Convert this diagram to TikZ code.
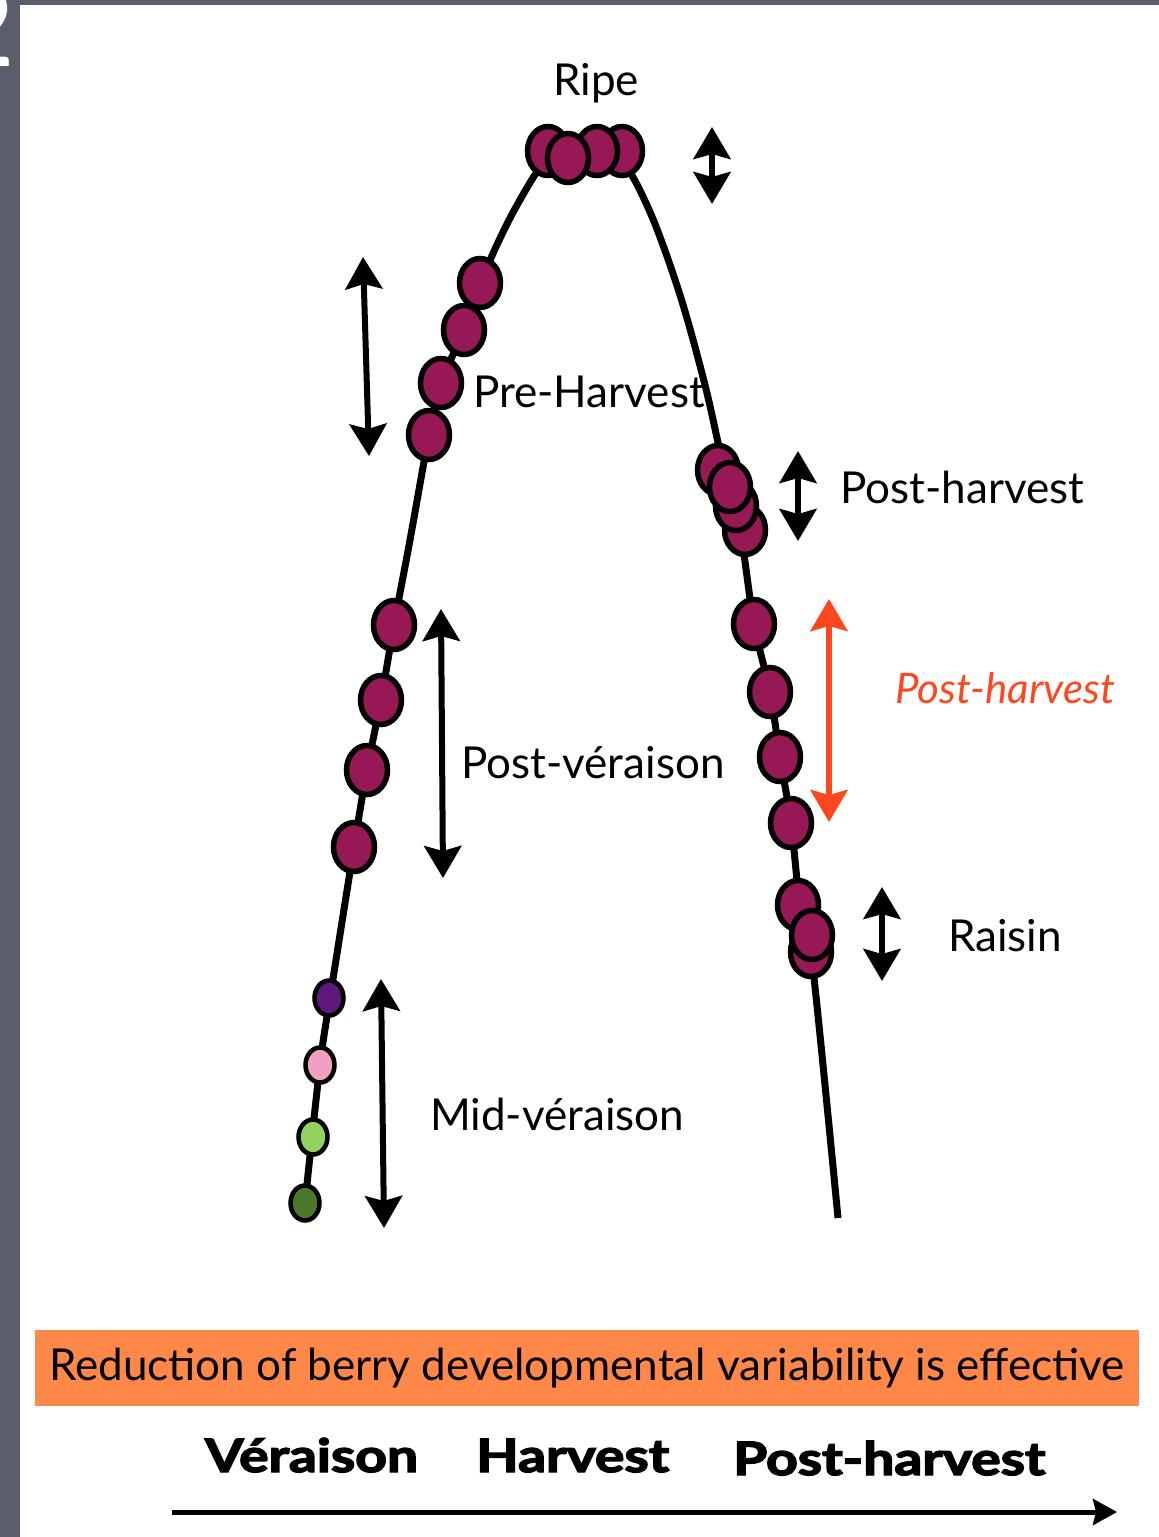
\documentclass[tikz,border=0pt]{standalone}
\usepackage{fontspec}
\usepackage{graphicx}
\setmainfont{Lato}
\newfontfamily\heavyfont{Lato}[FakeBold=3]
\usetikzlibrary{arrows.meta,shapes.geometric}

\definecolor{frame}{RGB}{90,94,108}
\definecolor{berryred}{RGB}{150,25,85}
\definecolor{grapepurple}{RGB}{95,25,125}
\definecolor{grapepink}{RGB}{240,160,192}
\definecolor{grapelime}{RGB}{145,210,95}
\definecolor{grapegreen}{RGB}{75,120,40}
\definecolor{banner}{RGB}{255,136,72}
\definecolor{alert}{RGB}{255,70,30}

\tikzset{
  berry/.style={ellipse, draw=black, line width=5.5pt, fill=berryred,
    minimum width=41pt, minimum height=49pt, inner sep=0pt},
  smallberry/.style={ellipse, draw=black, line width=4.5pt,
    minimum width=29pt, minimum height=35pt, inner sep=0pt},
  dbl/.style={line width=6pt, {Stealth[length=32pt,width=37pt,inset=5pt]}-{Stealth[length=32pt,width=37pt,inset=5pt]}},
  label/.style={anchor=base west, inner sep=0pt, font=\fontsize{44}{48}\selectfont},
  axislabel/.style={anchor=base west, inner sep=0pt, font=\fontsize{46}{50}\selectfont\heavyfont\bfseries},
}

\begin{document}
\begin{tikzpicture}[x=1pt,y=-1pt]
\useasboundingbox (0,0) rectangle (1159,1537);

% slide frame
\fill[frame] (0,0) rectangle (1159,5);
\fill[frame] (0,0) rectangle (20,1537);
\begin{scope}
  \clip (0,0) rectangle (20,1537);
  \node[anchor=base east, inner sep=0pt, text=white,
        font=\fontsize{110}{110}\selectfont] (slidenum) at (16,66) {2};
\end{scope}

% ripening curve
\draw[line width=7pt, line cap=butt] plot[smooth, tension=0.55] coordinates {
  (305,1203) (320,1065) (330,998) (354,847) (367,770) (381,700) (394,625)
  (410,540) (429,435) (441,383) (464,330) (488,265) (516,207) (548,158)
  (585,140) (620,158) (650,212) (680,295) (705,385) (722,460) (740,530)
  (754,624) (770,692) (780,757) (791,823) (800,905) (812,960) (838,1218)};

% green-to-purple berries at veraison
\node[smallberry, fill=grapegreen]  (g1) at (305,1203) {};
\node[smallberry, fill=grapelime]   (g2) at (313,1137) {};
\node[smallberry, fill=grapepink]   (g3) at (320,1065) {};
\node[smallberry, fill=grapepurple] (g4) at (329,998) {};

% coloured berries, left branch
\node[berry] (l1) at (354,847) {};
\node[berry] (l2) at (367,770) {};
\node[berry] (l3) at (381,700) {};
\node[berry] (l4) at (394,625) {};
\node[berry] (l5) at (429,435) {};
\node[berry] (l6) at (441,383) {};
\node[berry] (l7) at (464,330) {};
\node[berry] (l8) at (480,283) {};

% ripe cluster
\node[berry] (r1) at (548,151) {};
\node[berry] (r4) at (622,151) {};
\node[berry] (r3) at (597,151) {};
\node[berry] (r2) at (568,158) {};

% post-harvest cluster
\node[berry] (p4) at (745,530) {};
\node[berry] (p3) at (736,506) {};
\node[berry] (p1) at (718,470) {};
\node[berry] (p2) at (730,487) {};

% right branch
\node[berry] (s1) at (754,624) {};
\node[berry] (s2) at (770,692) {};
\node[berry] (s3) at (780,757) {};
\node[berry] (s4) at (791,823) {};

% raisin cluster
\node[berry] (z1) at (798,905) {};
\node[berry] (z3) at (811,952) {};
\node[berry] (z2) at (812,935) {};

% variability arrows
\coordinate (a1t) at (712,127);  \coordinate (a1b) at (712,204);
\coordinate (a2t) at (363,257);  \coordinate (a2b) at (369,456);
\coordinate (a3t) at (798,451);  \coordinate (a3b) at (798,541);
\coordinate (a4t) at (441,609);  \coordinate (a4b) at (443,878);
\coordinate (a5t) at (829,599);  \coordinate (a5b) at (829,822);
\coordinate (a6t) at (882,887);  \coordinate (a6b) at (882,981);
\coordinate (a7t) at (381,979);  \coordinate (a7b) at (384,1228);
\draw[dbl] (a1t) -- (a1b);
\draw[dbl] (a2t) -- (a2b);
\draw[dbl] (a3t) -- (a3b);
\draw[dbl] (a4t) -- (a4b);
\draw[dbl, draw=alert, fill=alert] (a5t) -- (a5b);
\draw[dbl] (a6t) -- (a6b);
\draw[dbl] (a7t) -- (a7b);

% stage labels
\node[anchor=base, inner sep=0pt, font=\fontsize{44}{48}\selectfont] (ripe) at (596,95) {Ripe};
\node[label] (preh) at (473,407) {Pre-Harvest};
\node[label] (posth) at (840,503) {Post-harvest};
\node[label, text=alert, font=\fontsize{42}{46}\selectfont\itshape] (posth2) at (895,703) {Post-harvest};
\node[label] (postv) at (461,778) {Post-véraison};
\node[label] (raisin) at (948,951) {Raisin};
\node[label] (midv) at (430,1130) {Mid-véraison};

% conclusion banner
\node[fill=banner, minimum width=1104pt, minimum height=76pt, inner sep=0pt,
      font=\fontsize{44}{48}\selectfont] (banner) at (587,1368)
      {Reduction of berry developmental variability is effective};

% time axis
\node[axislabel] (tv) at (205,1472) {\scalebox{1.2}[1]{Véraison}};
\node[axislabel] (th) at (476,1472) {\scalebox{1.2}[1]{Harvest}};
\node[axislabel] (tp) at (733,1475) {\scalebox{1.2}[1]{Post-harvest}};
\coordinate (ax0) at (172,1512);
\coordinate (ax1) at (1117,1512);
\draw[line width=5pt, -{Stealth[length=24pt,width=26pt,inset=3pt]}] (ax0) -- (ax1);
\end{tikzpicture}
\end{document}
